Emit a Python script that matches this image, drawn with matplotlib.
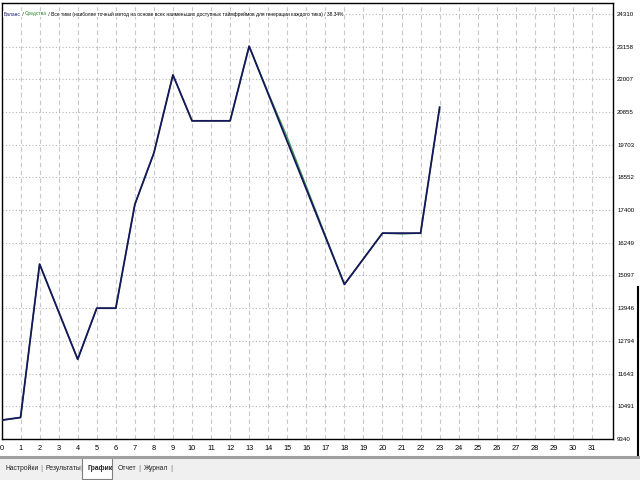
import matplotlib

matplotlib.use("Agg")
import matplotlib.pyplot as plt
from matplotlib.lines import Line2D
from matplotlib.patches import Rectangle

plt.rcParams["font.family"] = ["Liberation Sans", "DejaVu Sans"]

# баланс по сделкам
balance_x = [0, 1, 2, 4, 5, 6, 7, 8, 9, 10, 12, 13, 18, 20, 22, 23]
balance_y = [10003, 10097, 15496, 12146, 13946, 13946, 17599, 19410, 22157,
             20541, 20541, 23168, 14783, 16588, 16588, 21019]

# средства (почти совпадают с балансом)
equity_x = [0, 1, 2, 4, 5, 6, 7, 8, 9, 10, 12, 13, 14, 15, 18, 20, 21, 22, 23]
equity_y = [10003, 10097, 15496, 12146, 13946, 13946, 17599, 19410, 22157,
            20541, 20541, 23168, 21530, 19960, 14783, 16588, 16560, 16588, 21019]

y_ticks = [9340, 10491, 11643, 12794, 13946, 15097, 16249, 17400,
           18552, 19703, 20855, 22007, 23158, 24310]
x_ticks = list(range(32))

title_parts = [
    ("Баланс", "#1a1a7a"),
    (" / ", "black"),
    ("Средства", "#2e8b2e"),
    (" / Все тики (наиболее точный метод на основе всех наименьших доступных "
     "таймфреймов для генерации каждого тика) / 38.34%", "black"),
]
tabs = ["Настройки", "Результаты", "График", "Отчет", "Журнал"]

W, H = 640, 480
fig = plt.figure(figsize=(6.4, 4.8), dpi=100)
ax = fig.add_axes([1.5 / W, (H - 439) / H, (613 - 1.5) / W, (439 - 3) / H])

ax.plot(equity_x, equity_y, color="#3c9a5a", lw=1.0, zorder=3)
ax.plot(balance_x, balance_y, color="#16165a", lw=1.3, zorder=4)

ax.set_xlim(0, 32.1)
ax.set_ylim(9340, 24690)
ax.set_xticks(x_ticks)
ax.set_yticks(y_ticks)
ax.set_xticklabels([str(v) for v in x_ticks], fontsize=5.3)
ax.set_yticklabels([str(v) for v in y_ticks], fontsize=4.4)
ax.yaxis.tick_right()
ax.tick_params(axis="both", length=0, pad=3)
ax.tick_params(axis="x", pad=4)

ax.xaxis.grid(True, color="#c8c8c8", ls=(0, (4, 3)), lw=0.8)
ax.yaxis.grid(True, color="#b4b4b4", ls=(0, (1, 2)), lw=0.8)
ax.set_axisbelow(True)
for sp in ax.spines.values():
    sp.set_color("black")
    sp.set_linewidth(1.0)

# заголовок внутри графика
x0 = 4
renderer = fig.canvas.get_renderer()
for text, col in title_parts:
    t = fig.text(x0 / W, 1 - 14 / H, text, color=col, fontsize=3.5,
                 va="center", ha="left",
                 bbox=dict(facecolor="white", edgecolor="none", pad=0.6))
    bb = t.get_window_extent(renderer=renderer)
    x0 += bb.width

# нижняя панель с вкладками
fig.patches.append(Rectangle((0, 0), 1, (H - 459) / H, transform=fig.transFigure,
                             facecolor="#f0f0f0", edgecolor="none", zorder=0))
fig.lines.append(Line2D([0, 1], [1 - 457 / H] * 2, transform=fig.transFigure,
                        color="#a0a0a0", lw=2.2))
fig.lines.append(Line2D([638 / W] * 2, [1 - 287 / H, 1 - 455 / H],
                        transform=fig.transFigure, color="black", lw=1.5))

tab_x = [6, 45, 87, 118, 144]
sep_x = [41, 81, 139, 171]
for lbl, tx in zip(tabs, tab_x):
    fw = "bold" if lbl == "График" else "normal"
    fig.text(tx / W, 1 - 468 / H, lbl, fontsize=4.9, fontweight=fw,
             va="center", ha="left", color="#222222")
for sx in sep_x:
    fig.text(sx / W, 1 - 468 / H, "|", fontsize=6, va="center", ha="center",
             color="#777777")
fig.patches.append(Rectangle((82 / W, 1 - 479 / H), 30 / W, 21 / H,
                             transform=fig.transFigure, facecolor="white",
                             edgecolor="#808080", lw=0.8, zorder=0.5))

fig.savefig("out.png", dpi=100)
plt.close(fig)
